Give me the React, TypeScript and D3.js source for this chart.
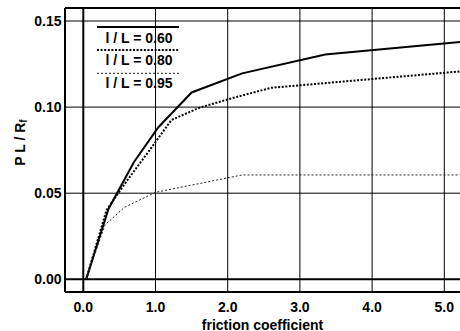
import React from "react";
import * as d3 from "d3";

const xTicks = [0, 1, 2, 3, 4, 5];
const yTicks = [0, 0.05, 0.1, 0.15];
const seriesLabels = ["l / L = 0.60", "l / L = 0.80", "l / L = 0.95"];

const frictionA = [0.04, 0.35, 0.7, 1.04, 1.5, 2.2, 3.35, 5.3];
const valuesA = [0, 0.041, 0.068, 0.0883, 0.1085, 0.1196, 0.1305, 0.1382];

const frictionB = [0.04, 0.32, 0.6, 0.92, 1.22, 1.6, 2.0, 2.6, 4.0, 5.3];
const valuesB = [0, 0.04, 0.057, 0.0751, 0.0925, 0.0995, 0.1045, 0.1112, 0.1163, 0.121];

const frictionC = [0.04, 0.3, 0.57, 1.0, 2.2, 5.3];
const valuesC = [0, 0.0315, 0.0418, 0.0505, 0.0606, 0.0606];

const W = 460;
const H = 331;
const FONT = "'Liberation Sans', Arial, sans-serif";

export default function App() {
  const x = d3.scaleLinear().domain([0, 5]).range([83.3, 444.3]);
  const y = d3.scaleLinear().domain([0, 0.15]).range([279.3, 21]);
  const frame = { left: 65, top: 8, right: 475, bottom: 292 };

  const line = d3
    .line<[number, number]>()
    .x((d) => x(d[0]))
    .y((d) => y(d[1]));

  const series = [
    { xs: frictionA, ys: valuesA, width: 2, dash: undefined, color: "#000" },
    { xs: frictionB, ys: valuesB, width: 2, dash: "2,1.6", color: "#000" },
    { xs: frictionC, ys: valuesC, width: 1, dash: "2,2", color: "#222" },
  ];

  const legendY = [27, 50, 73.3];
  const legendTextY = [43.3, 65, 88.3];

  return (
    <svg
      width={W}
      height={H}
      style={{ position: "fixed", left: 0, top: 0, background: "#fff" }}
      fontFamily={FONT}
    >
      <defs>
        <clipPath id="plotclip">
          <rect x={frame.left} y={frame.top} width={frame.right - frame.left} height={frame.bottom - frame.top} />
        </clipPath>
      </defs>
      <rect x={0} y={0} width={W} height={H} fill="#fff" />
      {/* grid */}
      {xTicks.map((t) => (
        <line
          key={"gx" + t}
          x1={x(t)}
          x2={x(t)}
          y1={frame.top}
          y2={frame.bottom}
          stroke="#000"
          strokeWidth={t === 0 ? 2 : 1}
        />
      ))}
      {yTicks.map((t) => (
        <line
          key={"gy" + t}
          x1={frame.left}
          x2={frame.right}
          y1={y(t)}
          y2={y(t)}
          stroke="#000"
          strokeWidth={t === 0 ? 2 : 1}
        />
      ))}
      {/* frame */}
      <line x1={frame.left} x2={frame.left} y1={frame.top} y2={frame.bottom} stroke="#000" strokeWidth={2} />
      <line x1={frame.left} x2={frame.right} y1={frame.bottom} y2={frame.bottom} stroke="#000" strokeWidth={2} />
      <line x1={frame.left} x2={frame.right} y1={frame.top} y2={frame.top} stroke="#000" strokeWidth={2} />

      {/* legend */}
      {seriesLabels.map((lab, i) => (
        <g key={lab}>
          <line
            x1={97}
            x2={179}
            y1={legendY[i]}
            y2={legendY[i]}
            stroke={series[i].color}
            strokeWidth={series[i].width}
            strokeDasharray={series[i].dash}
          />
          <text
            x={139}
            y={legendTextY[i]}
            textAnchor="middle"
            fontSize={14}
            fontWeight="bold"
          >
            {lab}
          </text>
        </g>
      ))}

      {/* series */}
      <g clipPath="url(#plotclip)">
        {series.map((s, i) => (
          <path
            key={i}
            d={line(s.xs.map((v, j) => [v, s.ys[j]] as [number, number])) || ""}
            fill="none"
            stroke={s.color}
            strokeWidth={s.width}
            strokeDasharray={s.dash}
          />
        ))}
      </g>

      {/* y tick labels */}
      {yTicks.map((t) => (
        <text
          key={"yl" + t}
          x={61.5}
          y={y(t)}
          dy="0.36em"
          textAnchor="end"
          fontSize={14}
          fontWeight="bold"
        >
          {d3.format(".2f")(t)}
        </text>
      ))}
      {/* x tick labels */}
      {xTicks.map((t) => (
        <text
          key={"xl" + t}
          x={x(t)}
          y={311.5}
          textAnchor="middle"
          fontSize={14}
          fontWeight="bold"
        >
          {d3.format(".1f")(t)}
        </text>
      ))}
      <text x={262.5} y={329.5} textAnchor="middle" fontSize={14} fontWeight="bold">
        friction coefficient
      </text>
      <text
        transform="translate(25,142.5) rotate(-90)"
        textAnchor="middle"
        fontSize={14}
        fontWeight="bold"
      >
        P L / R<tspan fontSize={10} dy={2}>f</tspan>
      </text>
    </svg>
  );
}
